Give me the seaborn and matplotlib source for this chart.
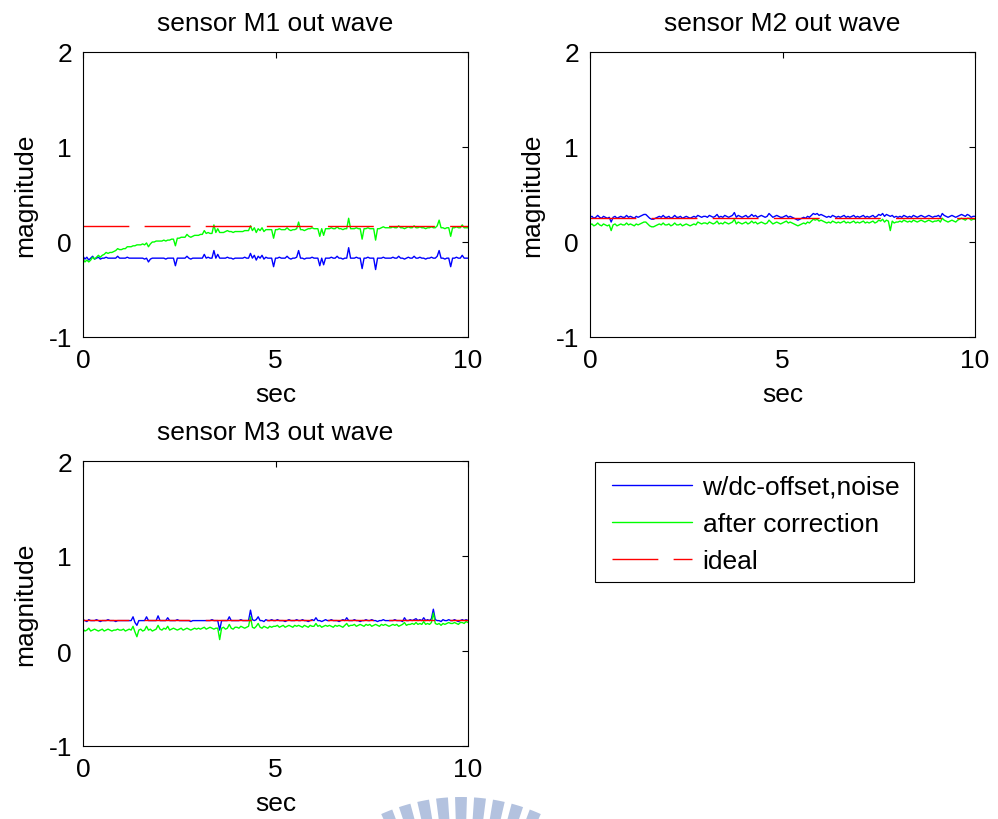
import numpy as np
import matplotlib
matplotlib.use("Agg")
import matplotlib.pyplot as plt
from matplotlib.patches import Wedge, Rectangle
import seaborn as sns

# ---- data (values in hundredths, sampled every 0.05 s from 0 to 10 s) ----
sensor_names = ["M1", "M2", "M3"]
ideal_level = [0.17, 0.25, 0.33]
legend_labels = ["w/dc-offset,noise", "after correction", "ideal"]
x_ticks = [0, 5, 10]
y_ticks = [-1, 0, 1, 2]

m1_raw = [-15, -18, -16, -19, -17, -15, -18, -17, -16, -18, -17, -17, -16, -17, -17, -17, -17, -17, -15, -17,
          -17, -17, -17, -16, -17, -17, -17, -17, -17, -17, -17, -17, -18, -17, -21, -18, -17, -17, -17, -17,
          -17, -17, -17, -18, -17, -17, -17, -17, -25, -17, -17, -17, -17, -17, -15, -17, -18, -17, -17, -17,
          -17, -17, -17, -13, -17, -16, -17, -17, -9, -17, -13, -17, -17, -17, -17, -16, -17, -17, -18, -17,
          -17, -17, -17, -17, -16, -17, -17, -12, -17, -14, -19, -15, -17, -14, -18, -16, -17, -17, -17, -26,
          -17, -17, -16, -17, -17, -17, -15, -17, -18, -17, -17, -16, -9, -17, -17, -18, -17, -17, -17, -16,
          -17, -17, -17, -25, -17, -24, -17, -17, -17, -16, -17, -17, -15, -17, -17, -18, -17, -17, -6, -17,
          -17, -17, -16, -17, -17, -28, -17, -17, -16, -17, -17, -17, -29, -17, -17, -17, -16, -17, -17, -17,
          -17, -16, -17, -17, -15, -17, -17, -18, -17, -16, -17, -17, -15, -17, -17, -16, -17, -17, -18, -17,
          -17, -16, -17, -17, -15, -9, -17, -17, -18, -17, -17, -26, -17, -17, -16, -17, -17, -14, -17, -17, -17]

m1_fix = [-18, -21, -19, -21, -19, -16, -18, -16, -14, -16, -14, -13, -11, -12, -11, -11, -10, -9, -7, -8,
          -8, -7, -7, -5, -5, -5, -4, -4, -3, -3, -3, -2, -3, -1, -5, -2, 0, 0, 1, 1,
          1, 1, 2, 1, 2, 2, 3, 3, -4, 4, 4, 5, 5, 5, 8, 6, 5, 6, 7, 7,
          7, 8, 8, 12, 9, 10, 9, 9, 18, 10, 14, 10, 10, 10, 11, 12, 11, 11, 10, 11,
          11, 11, 11, 11, 12, 12, 12, 17, 12, 15, 10, 14, 12, 15, 11, 13, 13, 13, 13, 4,
          13, 13, 14, 13, 13, 13, 15, 13, 12, 13, 13, 14, 21, 13, 13, 12, 13, 14, 14, 15,
          14, 14, 14, 6, 14, 7, 14, 14, 14, 15, 14, 14, 16, 14, 14, 13, 14, 14, 25, 14,
          14, 14, 15, 14, 14, 3, 14, 14, 15, 14, 14, 14, 2, 14, 14, 15, 16, 15, 15, 15,
          15, 16, 15, 15, 17, 15, 15, 14, 15, 16, 15, 15, 17, 15, 15, 16, 15, 15, 14, 15,
          15, 16, 15, 15, 17, 23, 15, 15, 14, 15, 15, 6, 15, 15, 16, 15, 15, 18, 15, 15, 15]

m2_raw = [26, 27, 25, 26, 28, 26, 25, 27, 26, 25, 26, 21, 26, 27, 25, 26, 27, 26, 26, 28,
          26, 27, 26, 25, 27, 26, 27, 28, 29, 29, 27, 25, 24, 24, 25, 26, 27, 26, 28, 26,
          26, 27, 25, 26, 28, 26, 26, 27, 25, 26, 27, 26, 25, 26, 27, 26, 28, 27, 26, 27,
          27, 26, 28, 27, 26, 27, 29, 26, 27, 26, 28, 27, 26, 27, 28, 31, 26, 28, 27, 26,
          27, 28, 26, 27, 29, 27, 28, 26, 27, 28, 27, 26, 27, 30, 28, 26, 27, 28, 27, 26,
          26, 27, 28, 26, 27, 26, 25, 24, 23, 24, 25, 26, 25, 27, 26, 28, 30, 29, 30, 28,
          29, 28, 27, 26, 27, 26, 28, 27, 26, 27, 26, 27, 28, 26, 27, 26, 27, 28, 26, 27,
          26, 27, 28, 26, 27, 26, 27, 28, 26, 27, 29, 28, 30, 27, 29, 28, 27, 28, 26, 27,
          26, 27, 26, 28, 27, 26, 27, 26, 28, 27, 26, 27, 28, 27, 26, 27, 28, 27, 26, 27,
          27, 28, 26, 30, 28, 27, 26, 27, 28, 27, 26, 27, 28, 29, 28, 27, 29, 28, 26, 27, 27]

m2_fix = [18, 19, 17, 18, 20, 18, 17, 19, 18, 17, 18, 12, 18, 19, 17, 18, 19, 18, 18, 20,
          18, 19, 18, 17, 19, 18, 19, 20, 21, 21, 19, 17, 16, 16, 17, 18, 19, 18, 20, 18,
          18, 19, 17, 18, 20, 18, 18, 19, 17, 18, 19, 18, 17, 18, 19, 18, 21, 20, 19, 20,
          20, 19, 21, 20, 19, 20, 22, 19, 20, 19, 21, 20, 19, 20, 21, 24, 19, 21, 20, 19,
          20, 21, 19, 20, 22, 20, 21, 19, 20, 21, 20, 19, 20, 23, 21, 19, 20, 21, 20, 19,
          20, 21, 22, 20, 21, 20, 19, 18, 17, 18, 19, 20, 19, 21, 20, 22, 24, 23, 24, 22,
          23, 22, 21, 20, 21, 20, 22, 21, 20, 21, 20, 21, 22, 20, 21, 20, 21, 22, 20, 21,
          20, 21, 22, 20, 21, 20, 21, 22, 20, 21, 23, 22, 24, 21, 23, 22, 12, 22, 20, 21,
          21, 22, 21, 23, 22, 21, 22, 21, 23, 22, 21, 22, 23, 22, 21, 22, 23, 22, 21, 22,
          22, 23, 21, 25, 23, 22, 21, 22, 23, 22, 21, 23, 24, 25, 24, 23, 25, 25, 23, 24, 24]

m3_raw = [33, 32, 31, 33, 32, 32, 32, 33, 32, 31, 32, 32, 32, 33, 32, 32, 32, 31, 32, 32,
          32, 32, 32, 32, 32, 32, 36, 30, 27, 32, 32, 32, 32, 36, 32, 32, 32, 32, 32, 37,
          32, 32, 32, 32, 35, 32, 32, 32, 32, 33, 32, 32, 32, 32, 32, 32, 31, 32, 32, 32,
          32, 32, 32, 32, 32, 32, 32, 33, 32, 32, 32, 22, 32, 32, 32, 32, 36, 32, 32, 32,
          32, 32, 33, 32, 32, 32, 32, 43, 33, 32, 33, 36, 32, 32, 31, 33, 32, 32, 33, 32,
          32, 33, 32, 32, 32, 31, 32, 33, 32, 32, 32, 33, 32, 32, 33, 32, 32, 31, 32, 33,
          32, 35, 32, 32, 31, 32, 33, 32, 32, 33, 32, 32, 32, 31, 32, 33, 32, 35, 32, 32,
          32, 33, 32, 32, 31, 32, 32, 33, 32, 32, 33, 32, 32, 31, 32, 32, 33, 32, 32, 32,
          32, 32, 33, 32, 32, 32, 31, 35, 32, 32, 33, 32, 33, 34, 32, 33, 32, 35, 32, 33,
          32, 34, 44, 33, 32, 32, 31, 33, 32, 32, 33, 32, 32, 33, 32, 31, 32, 33, 32, 33, 32]

m3_fix = [23, 21, 22, 24, 21, 22, 23, 22, 21, 22, 23, 21, 22, 23, 22, 21, 22, 22, 23, 22,
          22, 23, 21, 22, 23, 22, 26, 20, 15, 22, 23, 21, 22, 26, 22, 23, 21, 22, 23, 27,
          23, 22, 24, 23, 26, 22, 23, 24, 23, 22, 23, 24, 22, 23, 24, 23, 22, 23, 24, 23,
          24, 23, 24, 25, 23, 24, 25, 24, 23, 24, 24, 12, 24, 25, 23, 24, 28, 24, 23, 25,
          25, 24, 26, 25, 24, 25, 26, 36, 25, 24, 26, 29, 25, 24, 26, 25, 24, 26, 25, 26,
          26, 27, 25, 26, 27, 25, 26, 27, 26, 25, 27, 26, 27, 26, 25, 27, 26, 25, 27, 26,
          26, 29, 26, 27, 25, 26, 27, 26, 27, 26, 25, 27, 26, 27, 26, 25, 27, 29, 26, 27,
          27, 28, 26, 27, 28, 27, 26, 28, 27, 28, 26, 27, 28, 27, 26, 28, 27, 28, 27, 26,
          27, 28, 27, 28, 26, 27, 28, 30, 27, 28, 28, 29, 28, 30, 28, 29, 28, 31, 28, 29,
          28, 30, 40, 29, 28, 29, 27, 29, 28, 29, 30, 29, 29, 30, 29, 28, 30, 30, 29, 31, 30]

raw_series = [m1_raw, m2_raw, m3_raw]
fix_series = [m1_fix, m2_fix, m3_fix]

# ---- style ----
FS = 19
sns.set_theme(style="white")
plt.rcParams["font.family"] = ["Liberation Sans", "DejaVu Sans"]
plt.rcParams["font.size"] = FS
plt.rcParams["axes.unicode_minus"] = False
plt.rcParams["text.color"] = "black"
plt.rcParams["axes.labelcolor"] = "black"
plt.rcParams["xtick.color"] = "black"
plt.rcParams["ytick.color"] = "black"
plt.rcParams["axes.edgecolor"] = "black"
plt.rcParams["axes.linewidth"] = 0.8
plt.rcParams["xtick.direction"] = "in"
plt.rcParams["ytick.direction"] = "in"

W, H = 998, 820
fig = plt.figure(figsize=(W / 100, H / 100), dpi=100)
fig.patch.set_facecolor("white")


def px_axes(left, top, right, bottom):
    return fig.add_axes([left / W, 1 - bottom / H, (right - left) / W, (bottom - top) / H])


axes = [
    px_axes(83, 53, 468, 338),
    px_axes(590, 53, 975, 338),
    px_axes(83, 462, 468, 747),
]

LW = 1.0
DASH = (33.0 / LW, 11.0 / LW)

for ax, name, raw, fix, level in zip(axes, sensor_names, raw_series, fix_series, ideal_level):
    t_raw = np.linspace(0, 10, len(raw))
    t_fix = np.linspace(0, 10, len(fix))
    sns.lineplot(x=t_raw, y=np.array(raw) / 100.0, ax=ax, color="#0000ff",
                 linewidth=LW, estimator=None, label=legend_labels[0], legend=False)
    sns.lineplot(x=t_fix, y=np.array(fix) / 100.0, ax=ax, color="#00ff00",
                 linewidth=LW, estimator=None, label=legend_labels[1], legend=False)
    sns.lineplot(x=[0, 10], y=[level, level], ax=ax, color="#ff0000",
                 linewidth=LW, estimator=None, label=legend_labels[2], legend=False)
    ax.lines[-1].set_dashes(DASH)

    ax.set_xlim(0, 10)
    ax.set_ylim(-1, 2)
    ax.set_xticks(x_ticks)
    ax.set_yticks(y_ticks)
    ax.tick_params(axis="both", which="both", direction="in", length=4, width=0.8,
                   top=True, right=True, labelsize=FS, colors="black", pad=8)
    for s in ax.spines.values():
        s.set_visible(True)
        s.set_color("black")
        s.set_linewidth(0.8)
    ax.set_title(f"sensor {name} out wave", fontsize=FS, pad=16, color="black")
    ax.set_xlabel("sec", fontsize=FS, labelpad=7, color="black")
    ax.set_ylabel("magnitude", fontsize=FS, labelpad=8, color="black")
    ax.set_facecolor("white")
    ax.grid(False)

# legend in the empty lower-right slot: frameless entries inside a drawn box
handles = axes[0].lines[:3]
leg = fig.legend(handles, legend_labels, loc="upper left",
                 bbox_to_anchor=(612 / W, 1 - 476 / H), bbox_transform=fig.transFigure,
                 frameon=False, fontsize=FS,
                 handlelength=3.05, handletextpad=0.38, labelspacing=0.49,
                 borderpad=0, borderaxespad=0)
for txt in leg.get_texts():
    txt.set_color("black")
fig.add_artist(Rectangle((595 / W, 1 - 583 / H), (914 - 595) / W, (583 - 463) / H,
                         transform=fig.transFigure, facecolor="none",
                         edgecolor="black", linewidth=0.8))

# faint institutional watermark along the bottom edge
wm = fig.add_axes([0, 0, 1, 1], zorder=-1)
wm.set_xlim(0, W)
wm.set_ylim(H, 0)
wm.axis("off")
for k in range(-4, 5):
    ang = 270 + k * 5.6
    wm.add_patch(Wedge((461, 993), 195, ang - 1.75, ang + 1.75, width=70,
                       facecolor="#b3c2df", edgecolor="none"))

fig.savefig("out.png", dpi=100, facecolor="white")
